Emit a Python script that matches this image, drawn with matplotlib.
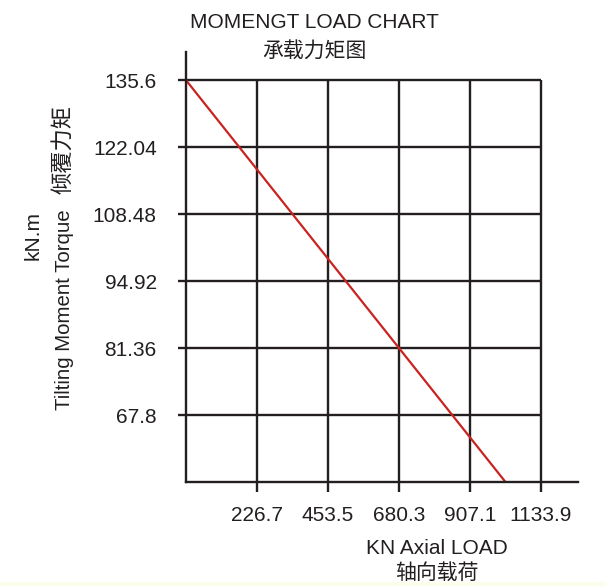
import matplotlib.pyplot as plt
from matplotlib.patches import Rectangle

# axial load ticks (kN) and tilting moment ticks (kN.m)
load_ticks = [226.7, 453.5, 680.3, 907.1, 1133.9]
moment_ticks = [67.8, 81.36, 94.92, 108.48, 122.04, 135.6]
moment_floor = 54.24

# load limit curve
curve_load = [0, 1020.4]
curve_moment = [135.6, 54.24]

FONT = ["Liberation Sans", "Noto Sans CJK SC", "DejaVu Sans"]
INK = "#231f20"

fig = plt.figure(figsize=(6.06, 5.86), dpi=100)
ax = fig.add_axes([186 / 606, (586 - 482) / 586, 392 / 606, 430 / 586])
ax.set_xlim(0, 1252)
ax.set_ylim(moment_floor, 141.3)

for side in ["top", "right"]:
    ax.spines[side].set_visible(False)
for side in ["left", "bottom"]:
    ax.spines[side].set_linewidth(1.7)
    ax.spines[side].set_color(INK)

# grid stops at the last tick on each axis
ax.hlines(moment_ticks, 0, load_ticks[-1], color=INK, lw=1.7)
ax.vlines(load_ticks, moment_floor, moment_ticks[-1], color=INK, lw=1.7)

ax.plot(curve_load, curve_moment, color="#c9231f", lw=1.6, solid_capstyle="butt")

ax.set_xticks(load_ticks)
ax.set_xticklabels([str(v) for v in load_ticks])
ax.set_yticks(moment_ticks)
ax.set_yticklabels([str(v) for v in moment_ticks])
ax.tick_params(axis="both", direction="out", width=1.7, color=INK,
               labelsize=15, labelcolor=INK)
ax.tick_params(axis="x", length=7, pad=10)
ax.tick_params(axis="y", length=6, pad=15)
for lab in ax.get_xticklabels() + ax.get_yticklabels():
    lab.set_family(FONT)

fig.text(314 / 606, 1 - 22 / 586, "MOMENGT LOAD CHART", ha="center", va="center",
         fontsize=15, family=FONT, color=INK)
fig.text(314 / 606, 1 - 51 / 586, "承载力矩图", ha="center", va="center",
         fontsize=15, family=FONT, color=INK)

fig.text(33 / 606, 1 - 235 / 586, "kN.m", rotation=90, ha="center", va="center",
         fontsize=15, family=FONT, color=INK)
fig.text(64 / 606, 1 - 310 / 586, "Tilting Moment Torque", rotation=90,
         ha="center", va="center", fontsize=14.7, family=FONT, color=INK)
fig.text(64 / 606, 1 - 150 / 586, "倾覆力矩", rotation=90,
         ha="center", va="center", fontsize=16, family=FONT, color=INK)

fig.text(437 / 606, 1 - 548 / 586, "KN Axial LOAD", ha="center", va="center",
         fontsize=15, family=FONT, color=INK)
fig.text(437 / 606, 1 - 573 / 586, "轴向载荷", ha="center", va="center",
         fontsize=15, family=FONT, color=INK)

fig.patches.append(Rectangle((0, 0), 1, 4 / 586, transform=fig.transFigure,
                             facecolor="#fdfdec", edgecolor="none", zorder=0))

fig.savefig("out.png", dpi=100)
